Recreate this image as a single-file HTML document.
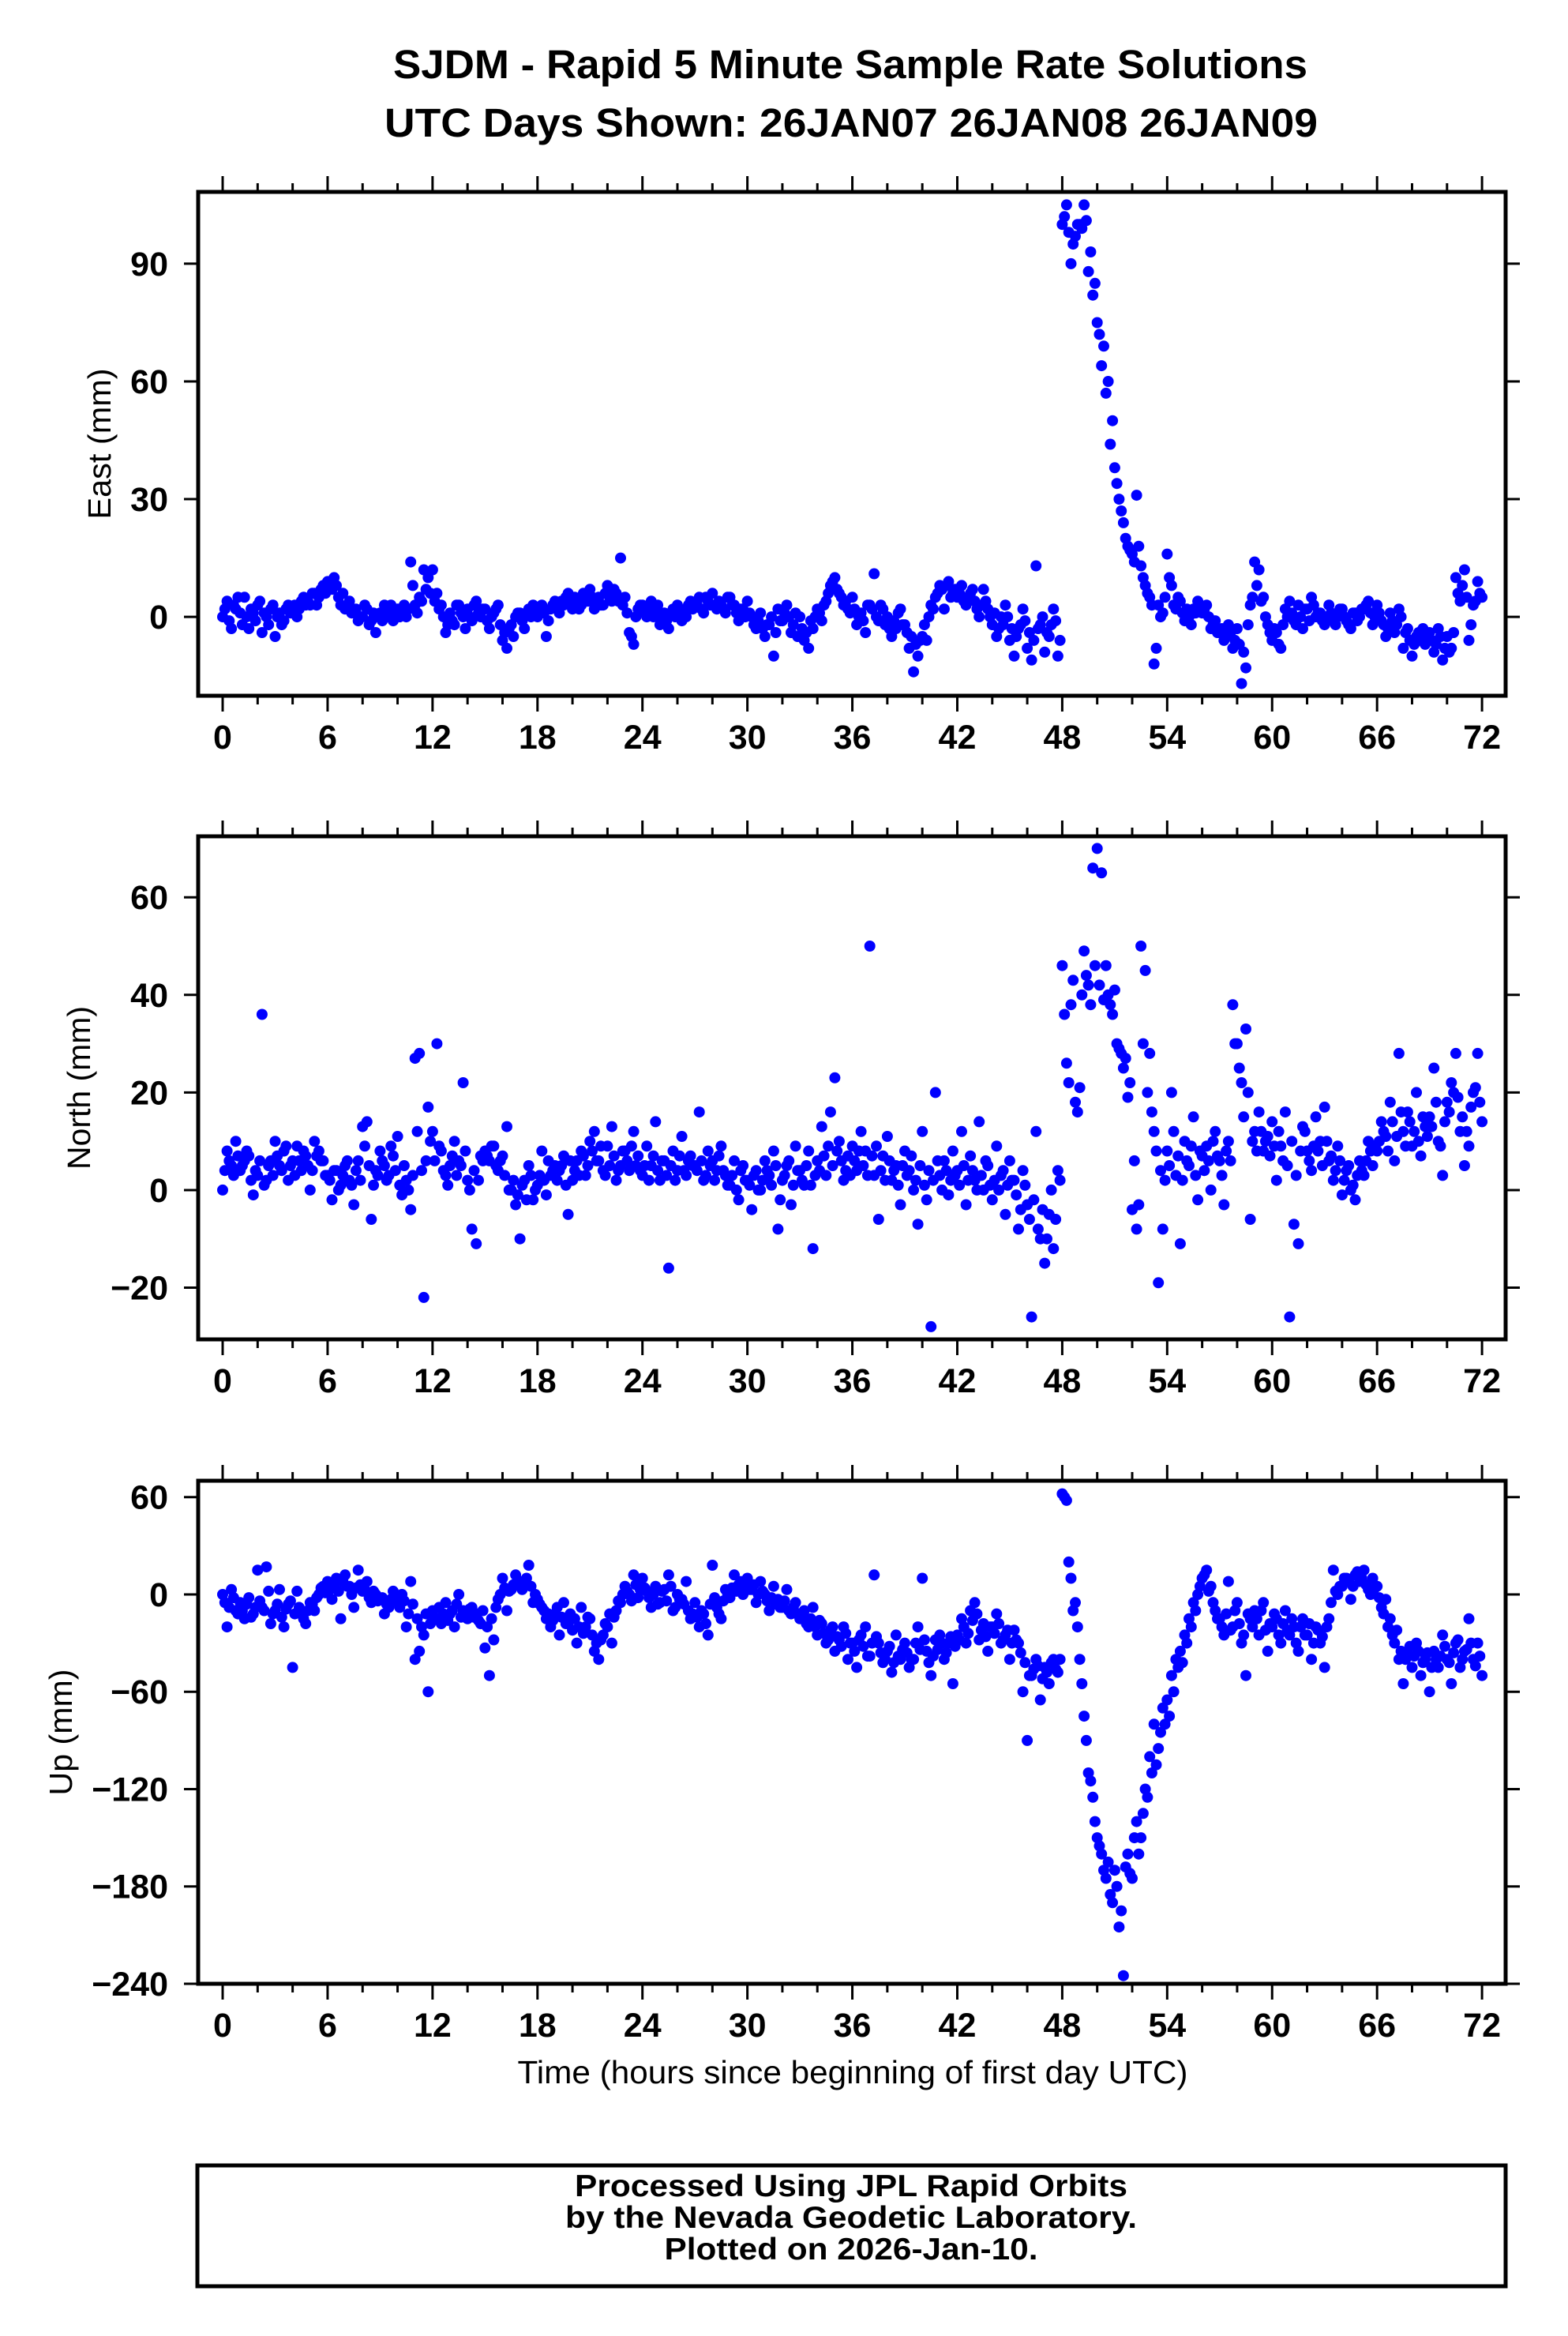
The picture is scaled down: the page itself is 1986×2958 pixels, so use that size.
<!DOCTYPE html>
<html>
<head>
<meta charset="utf-8">
<style>
  html,body{margin:0;padding:0;background:#fff;}
  svg{display:block;}
  text{font-family:"Liberation Sans", Arial, sans-serif;fill:#000;}
</style>
</head>
<body>
<svg id="chart" xmlns="http://www.w3.org/2000/svg" width="1986" height="2958" viewBox="0 0 1986 2958">
  <rect x="0" y="0" width="1986" height="2958" fill="#fff"/>
  <text x="1077" y="99" text-anchor="middle" font-size="51" font-weight="bold" textLength="1158" lengthAdjust="spacingAndGlyphs">SJDM - Rapid 5 Minute Sample Rate Solutions</text>
  <text x="1078" y="173" text-anchor="middle" font-size="51" font-weight="bold" textLength="1182" lengthAdjust="spacingAndGlyphs">UTC Days Shown:  26JAN07 26JAN08 26JAN09</text>
  <g id="panels"></g>
  <text x="1080" y="2638" text-anchor="middle" font-size="41" textLength="849" lengthAdjust="spacingAndGlyphs">Time (hours since beginning of first day UTC)</text>
  <rect x="250" y="2742" width="1657" height="153" fill="none" stroke="#000" stroke-width="5"/>
  <text x="1078" y="2781" text-anchor="middle" font-size="39" font-weight="bold" textLength="700" lengthAdjust="spacingAndGlyphs">Processed Using JPL Rapid Orbits</text>
  <text x="1078" y="2821" text-anchor="middle" font-size="39" font-weight="bold" textLength="724" lengthAdjust="spacingAndGlyphs">by the Nevada Geodetic Laboratory.</text>
  <text x="1078" y="2861" text-anchor="middle" font-size="39" font-weight="bold" textLength="473" lengthAdjust="spacingAndGlyphs">Plotted on 2026-Jan-10.</text>
</svg>
<script>
// ---- data (mm). "A" arrays: every 0.25 h from 0 h; "B" arrays: every 0.25 h from 0.125 h ----
const sampleStepHours = 0.25;
const offsetB = 0.125;
const xTickLabels = [0, 6, 12, 18, 24, 30, 36, 42, 48, 54, 60, 66, 72];
const eastTicks = [0, 30, 60, 90];
const northTicks = [-20, 0, 20, 40, 60];
const upTicks = [-240, -180, -120, -60, 0, 60];
const eastValues = [
  0,4,-3,2, 1,5,-3,1, 3,-4,0,2,
  -5,1,-1,3, 2,0,4,3, 3,6,5,8,
  9,7,8,3, 2,4,1,-1, 0,2,-1,-4,
  1,3,0,-1, 2,1,0,14, 3,5,12,10,
  12,6,3,-4, 1,-2,3,0, 2,-1,4,0,
  2,-3,1,3, -6,-8,-2,0, 1,-3,2,3,
  0,3,-5,2, 4,1,3,6, 2,4,3,5,
  7,2,5,3, 8,4,6,15, 5,-4,-7,2,
  3,0,4,2, -2,1,-3,2, 3,-1,0,4,
  3,5,1,4, 6,2,3,1, 5,3,-1,2,
  4,0,-3,1, -5,-2,-10,2, -1,3,-4,1,
  0,-6,-8,-3, 2,-1,4,8, 10,6,3,2,
  5,-2,1,-4, 3,11,-1,2, 0,-5,-3,2,
  -2,-8,-14,-10, -5,-6,3,5, 8,2,9,6,
  5,8,3,6, 4,0,7,2, -2,-5,0,3,
  -6,-10,-3,2, -8,-11,13,-2, -9,-5,2,-10,
  100,105,90,97, 100,105,88,82, 75,64,57,44,
  38,30,24,18, 16,31,13,8, 5,-12,3,1,
  16,8,2,4, -1,0,2,4, 1,3,-3,-1,
  -4,-6,-2,-8, -3,-17,-13,3, 14,12,5,-2,
  -6,-4,-8,2, 4,-1,3,-3, 2,5,0,1,
  -2,3,-1,0, 2,-1,-3,1, 0,2,4,-2,
  3,-1,-5,1, -4,2,-8,-3, -10,-5,-6,-7,
  -4,-9,-3,-11, -5,-8,10,4, 12,-6,3,9,
  5
];
const eastValuesB = [
  2,-1,3,5, -2,0,2,-1, 4,1,-2,3,
  0,-2,2,1, 3,2,5,4, 6,3,7,6,
  8,10,5,6, 3,1,2,0, 3,-2,1,0,
  -1,2,3,1, 0,3,2,8, 1,4,7,6,
  4,2,0,-2, -1,3,1,-3, 0,3,1,2,
  -1,0,2,-2, -4,-3,-5,1, -1,1,0,2,
  2,1,-1,3, 2,4,5,3, 5,2,6,4,
  5,4,3,6, 5,7,4,3, 1,-5,0,3,
  1,2,0,3, 0,-1,1,0, 2,1,3,2,
  4,2,5,3, 3,4,2,5, 3,1,2,0,
  1,-2,-1,-3, -2,0,-4,-1, 1,0,-2,-5,
  -3,-4,-1,0, 1,3,6,9, 7,5,4,1,
  2,0,-1,3, 2,0,3,-2, -3,-1,1,-2,
  -4,-5,-7,-6, -2,0,2,6, 7,8,5,7,
  6,4,5,7, 2,3,4,0, 1,-3,-2,0,
  -3,-5,-2,-1, -4,-6,-3,0, -4,-2,-1,-6,
  102,98,95,100, 99,101,93,85, 72,69,60,50,
  34,27,20,17, 14,18,10,6, 3,-8,0,5,
  10,3,5,1, 2,-2,1,3, 2,0,-2,-4,
  -3,-5,-4,-6, -7,-9,-2,5, 8,4,0,-4,
  -3,-7,-2,0, 1,-2,0,2, -1,3,1,-1,
  0,1,-2,2, 0,-2,1,-1, 2,3,1,0,
  1,-2,-3,-1, -2,0,-4,-6, -7,-4,-3,-5,
  -6,-7,-5,-8, -9,-4,6,8, 5,-2,4,6
];
const northValues = [
  0,8,5,10, 4,6,7,-1, 3,36,2,6,
  10,5,8,2, 6,9,4,7, 0,10,8,6,
  3,-2,4,1, 5,2,-3,6, 13,14,-6,4,
  8,5,3,7, 11,-1,2,-4, 27,28,-22,17,
  12,30,8,3, 5,10,6,22, 2,-8,-11,7,
  8,6,9,4, 7,13,0,-3, -10,2,5,-2,
  1,8,-1,3, 5,4,7,-5, 2,6,8,3,
  10,12,6,4, 9,13,2,5, 8,4,12,7,
  3,9,5,14, 2,6,-16,8, 4,11,3,7,
  5,16,2,8, 6,4,9,3, 1,6,-2,5,
  2,-4,4,0, 6,3,8,-8, 2,5,-3,9,
  4,1,8,-12, 6,13,3,16, 23,10,2,7,
  9,4,12,8, 50,3,-6,7, 11,2,5,-3,
  8,4,0,-7, 12,-2,-28,20, 3,6,-1,8,
  4,12,-3,7, 2,14,0,5, -2,9,3,-5,
  6,2,-8,4, -3,-26,12,-10, -15,-5,-12,4,
  46,26,38,18, 21,49,42,66, 70,65,46,38,
  41,29,25,19, -4,-8,50,45, 28,12,-19,-8,
  8,20,3,-11, 10,5,15,-2, 7,9,0,12,
  6,-3,10,38, 30,22,33,-6, 12,16,8,11,
  14,2,9,16, -26,-7,-11,13, 8,4,15,10,
  17,6,2,9, -1,4,0,-2, 6,3,10,5,
  8,14,11,18, 6,28,12,16, 9,20,7,13,
  15,25,10,3, 18,22,28,12, 5,9,20,28,
  14
];
const northValuesB = [
  4,6,3,7, 5,8,2,4, 6,1,5,3,
  7,4,9,5, 3,6,8,5, 4,7,6,3,
  2,4,0,3, 6,1,4,2, 9,5,1,3,
  6,2,9,4, 1,5,0,3, 12,4,6,10,
  6,9,4,1, 7,3,5,8, 0,4,2,6,
  7,9,5,6, 3,0,2,-1, 1,-2,3,0,
  3,2,6,4, 2,5,1,6, 4,3,7,5,
  8,6,9,3, 5,7,4,8, 6,9,5,4,
  5,2,7,4, 6,3,5,2, 7,4,6,5,
  4,6,3,5, 2,7,4,1, 3,0,4,2,
  1,3,0,2, 4,1,5,-2, 3,6,1,4,
  2,5,1,3, 4,7,9,5, 8,6,4,3,
  6,8,5,3, 7,9,4,2, 6,4,1,5,
  3,7,2,5, 1,4,2,6, 0,4,2,3,
  1,5,2,4, 0,3,6,1, 2,0,4,1,
  2,-1,-4,1, -6,-2,-8,-4, -10,0,-6,2,
  36,22,43,16, 40,44,38,46, 42,39,40,36,
  30,28,27,22, 6,-3,30,20, 16,8,4,2,
  5,12,7,2, 6,9,3,8, 4,6,10,7,
  3,8,6,30, 25,15,20,10, 8,12,10,7,
  9,12,6,5, 10,3,8,12, 6,9,8,5,
  10,7,4,6, 2,5,1,3, 4,6,8,9,
  10,12,8,14, 11,16,9,14, 12,10,15,11,
  13,18,9,14, 16,20,19,15, 12,17,21,18
];
const upValues = [
  0,-20,3,-10, -5,-15,-2,-12, 15,-8,17,-18,
  -10,3,-20,-6, -45,2,-12,-18, -5,-10,0,5,
  8,-3,10,-15, 12,5,-8,15, 2,8,-5,0,
  -3,-12,-8,2, -5,0,-20,8, -40,-35,-25,-60,
  -10,-15,-18,-5, -12,-20,0,-10, -15,-8,-12,-18,
  -33,-50,-28,-3, 10,-10,3,12, 8,5,18,-5,
  -3,-8,-15,-20, -12,-25,-5,-18, -22,-30,-8,-20,
  -15,-35,-40,-25, -20,-30,-10,-5, 5,0,12,-2,
  10,2,-8,5, -5,3,12,-10, 0,-3,8,-15,
  -5,-20,-12,-25, 18,-8,-15,3, -2,12,6,0,
  10,3,-5,8, 0,-10,5,-3, -8,3,-12,-5,
  -15,-10,-20,-8, -25,-18,-30,-22, -35,-28,-20,-40,
  -30,-45,-25,-20, -38,12,-30,-42, -35,-48,-25,-40,
  -30,-45,-40,-20, 10,-35,-50,-28, -25,-40,-30,-55,
  -25,-15,-30,-10, -5,-28,-18,-35, -20,-12,-30,-25,
  -40,-22,-30,-60, -90,-50,-40,-65, -45,-55,-40,-48,
  62,58,10,-5, -40,-75,-110,-125, -150,-160,-175,-185,
  -170,-205,-235,-160, -175,-140,-150,-120, -100,-80,-95,-70,
  -65,-50,-40,-35, -25,-15,-5,0, 10,15,5,-10,
  -15,-25,8,-20, -5,-30,-50,-15, -10,-25,-5,-35,
  -20,-15,-30,-10, -25,-20,-35,-15, -25,-40,-20,-30,
  -45,-15,15,0, 5,10,-3,12, 8,15,3,10,
  5,-8,-3,-15, -30,-40,-55,-35, -45,-30,-50,-40,
  -60,-35,-45,-25, -40,-55,-30,-45, -35,-15,-40,-30,
  -50
];
const upValuesB = [
  -5,-8,-2,-12, -10,-6,-14,-8, -4,-10,2,-12,
  -6,-14,-9,-4, -12,-8,-15,-10, -6,-2,4,1,
  3,6,2,8, 5,0,4,6, 3,-2,2,-4,
  -2,-6,-3,-1, -8,-4,-12,-6, -15,-20,-12,-18,
  -14,-8,-12,-16, -10,-6,-14,-12, -9,-14,-16,-10,
  -20,-15,-8,0, 4,2,6,8, 3,10,5,0,
  -6,-10,-12,-16, -8,-14,-18,-12, -15,-20,-24,-14,
  -25,-30,-28,-18, -12,-14,-4,0, 2,-4,6,3,
  4,-2,0,-6, 2,-4,5,-8, -3,-6,-10,-12,
  -14,-10,-18,-6, -2,-12,-4,0, 4,2,8,5,
  3,6,0,2, -4,-2,-6,-8, -4,-10,-8,-12,
  -12,-18,-15,-20, -16,-24,-28,-20, -26,-32,-24,-30,
  -35,-28,-32,-38, -30,-26,-36,-40, -32,-42,-38,-34,
  -36,-40,-30,-34, -28,-42,-38,-34, -30,-36,-26,-32,
  -28,-20,-24,-16, -12,-22,-26,-20, -24,-18,-28,-22,
  -30,-28,-36,-42, -50,-46,-44,-52, -48,-42,-46,-40,
  60,20,-10,-20, -55,-90,-115,-140, -155,-170,-165,-190,
  -180,-195,-168,-172, -150,-160,-135,-125, -110,-105,-85,-80,
  -75,-60,-45,-42, -30,-20,-10,5, 12,2,-5,-15,
  -20,-12,-22,-10, -18,-25,-12,-20, -15,-10,-22,-18,
  -12,-25,-18,-22, -15,-30,-20,-25, -18,-30,-22,-26,
  -20,-5,2,5, 10,8,5,14, 10,6,0,4,
  -2,-12,-20,-25, -22,-35,-40,-32, -38,-35,-42,-36,
  -45,-40,-38,-32, -42,-36,-28,-40, -34,-30,-44,-38
];

// ---- layout ----
const NS = "http://www.w3.org/2000/svg";
const plotLeft = 251, plotRight = 1907;
const xMin = -1.4, xMax = 73.35;
function xScale(h){ return plotLeft + (h - xMin) / (xMax - xMin) * (plotRight - plotLeft); }

const panels = [
  {key:'east', title:'East (mm)', top:243, bottom:881, yMin:-20.1, yMax:108.3, ticks:eastTicks, values:eastValues, valuesB:eastValuesB, labelX:140, labelLen:191},
  {key:'north', title:'North (mm)', top:1059, bottom:1696, yMin:-30.6, yMax:72.5, ticks:northTicks, values:northValues, valuesB:northValuesB, labelX:114, labelLen:207},
  {key:'up', title:'Up (mm)', top:1875, bottom:2512, yMin:-240, yMax:70.1, ticks:upTicks, values:upValues, valuesB:upValuesB, labelX:91, labelLen:160}
];

function mk(tag, attrs){
  const e = document.createElementNS(NS, tag);
  for (const k in attrs) e.setAttribute(k, attrs[k]);
  return e;
}
function fmt(v){ return v < 0 ? '\u2212' + Math.abs(v) : String(v); }

const root = document.getElementById('panels');
panels.forEach(p => {
  const yScale = v => p.bottom - (v - p.yMin) / (p.yMax - p.yMin) * (p.bottom - p.top);
  const g = mk('g', {});
  
  
  root.appendChild(g);

  const pts = mk('g', {fill:'#0000ff'});
  
  
  g.appendChild(pts);
  const addPoint = (h, v) => {
    const c = mk('circle', {cx:xScale(h).toFixed(1), cy:yScale(v).toFixed(1), r:7});
    
    
    pts.appendChild(c);
  };
  p.values.forEach((v, i) => addPoint(i * sampleStepHours, v));
  p.valuesB.forEach((v, i) => addPoint(i * sampleStepHours + offsetB, v));

  const ticks = mk('g', {stroke:'#000', 'stroke-width':3});
  
  
  g.appendChild(ticks);
  for (let h = 0; h <= 72; h += 2) {
    const major = h % 6 === 0;
    const len = major ? 20 : 11;
    const x = xScale(h);
    ticks.appendChild(mk('line', {x1:x, x2:x, y1:p.top, y2:p.top - len}));
    ticks.appendChild(mk('line', {x1:x, x2:x, y1:p.bottom, y2:p.bottom + len}));
  }
  p.ticks.forEach(t => {
    const y = yScale(t);
    ticks.appendChild(mk('line', {x1:plotLeft, x2:plotLeft - 18, y1:y, y2:y}));
    ticks.appendChild(mk('line', {x1:plotRight, x2:plotRight + 18, y1:y, y2:y}));
    const lab = mk('text', {x:213, y:y + 15, 'text-anchor':'end', 'font-size':43, 'font-weight':'bold'});
    
    
    lab.textContent = fmt(t);
    g.appendChild(lab);
  });
  xTickLabels.forEach(h => {
    const lab = mk('text', {x:xScale(h), y:p.bottom + 67, 'text-anchor':'middle', 'font-size':43, 'font-weight':'bold'});
    
    
    lab.textContent = String(h);
    g.appendChild(lab);
  });

  const frame = mk('rect', {x:plotLeft, y:p.top, width:plotRight - plotLeft, height:p.bottom - p.top, fill:'none', stroke:'#000', 'stroke-width':5});
  
  
  g.appendChild(frame);

  const cy = (p.top + p.bottom) / 2;
  const yt = mk('text', {x:p.labelX, y:cy, 'text-anchor':'middle', 'font-size':41, transform:'rotate(-90 ' + p.labelX + ' ' + cy + ')', textLength:p.labelLen, lengthAdjust:'spacingAndGlyphs'});
  
  
  yt.textContent = p.title;
  g.appendChild(yt);
});
</script>
</body>
</html>
